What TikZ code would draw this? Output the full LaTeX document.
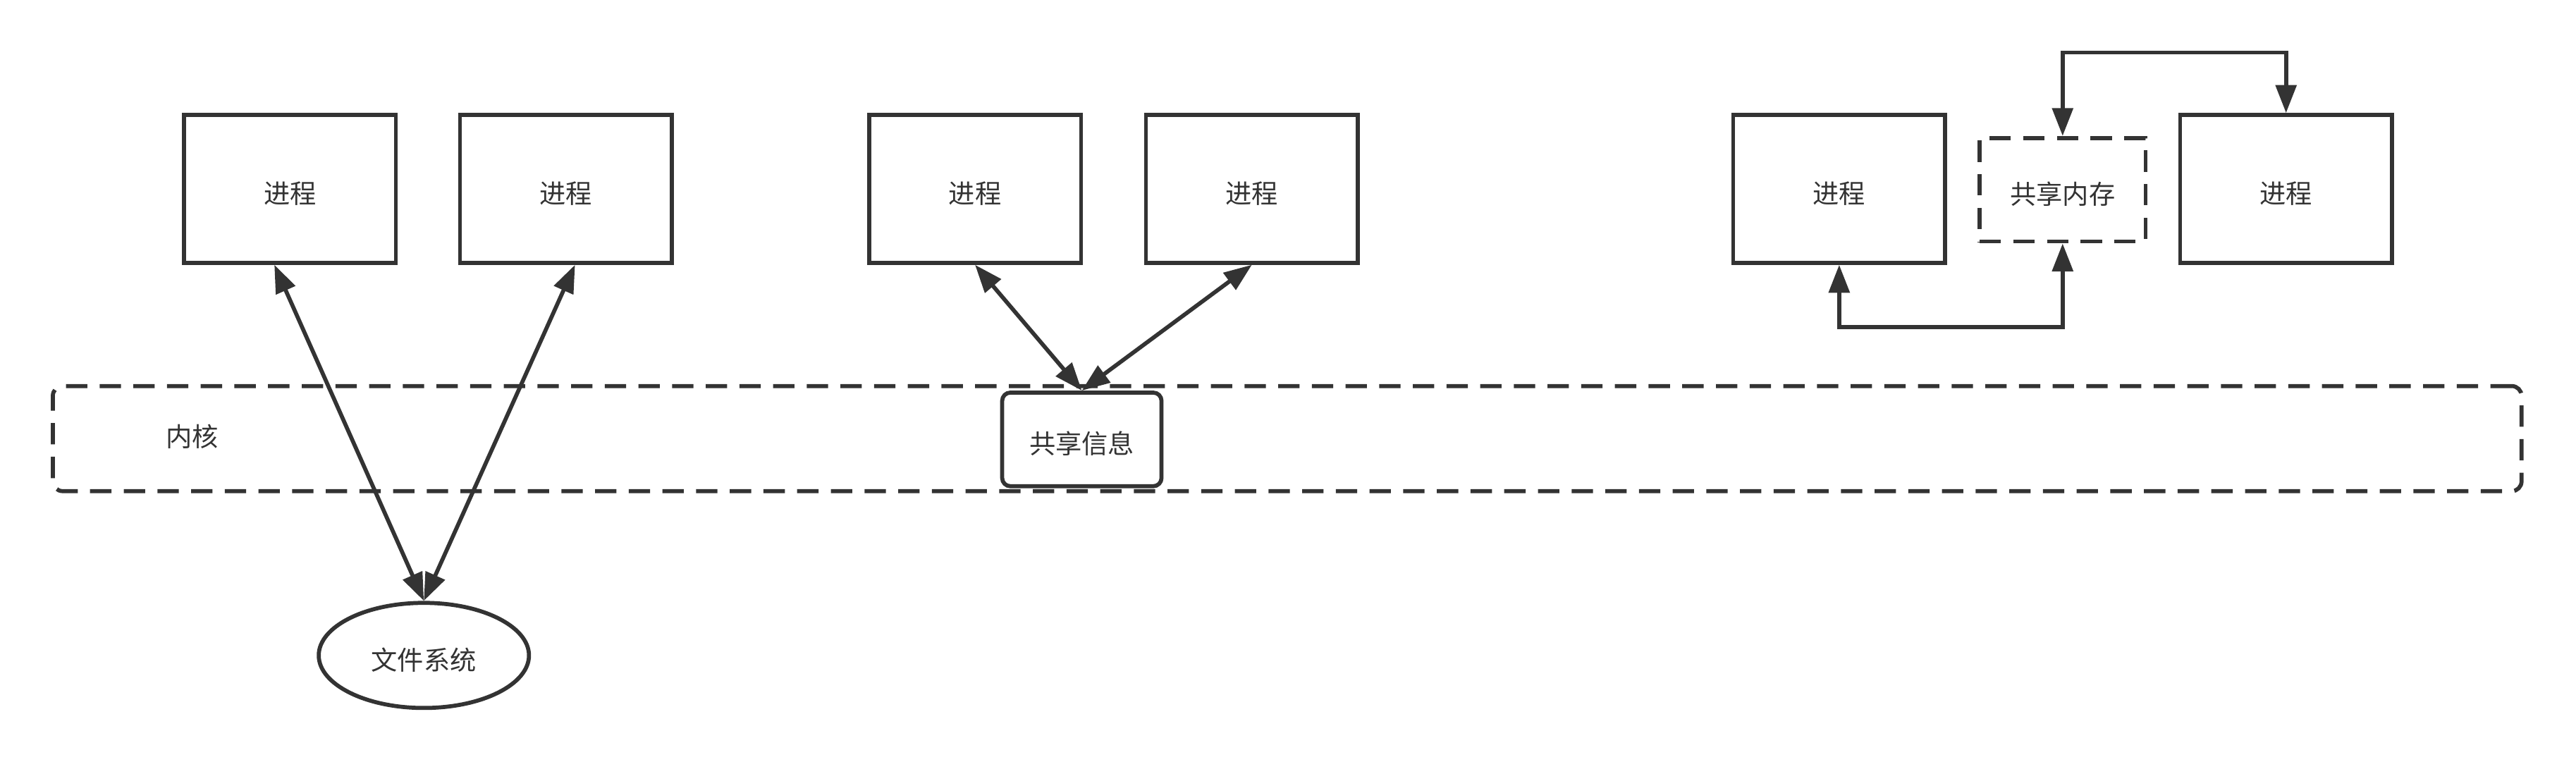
\documentclass[tikz,border=0pt]{standalone}
\usepackage{fontspec}
\newfontfamily\cjk{Noto Sans CJK SC}
\usetikzlibrary{arrows.meta,shapes.geometric,calc}

\begin{document}
\begin{tikzpicture}[x=0.02cm,y=-0.02cm,
    txt/.style={text=mydark,font=\cjk\fontsize{9.1pt}{11pt}\selectfont,text height=11pt,text depth=1.1pt},
    prozess/.style={txt,draw=mydark,line width=1.4pt,minimum width=2.58cm,minimum height=1.8cm,inner sep=0pt},
    speicher/.style={txt,draw=mydark,line width=1.4pt,dash pattern=on 0.26cm off 0.15cm,minimum width=2.02cm,minimum height=1.26cm,inner sep=0pt},
    infobox/.style={txt,draw=mydark,fill=white,line width=1.4pt,rounded corners=0.1cm,minimum width=1.94cm,minimum height=1.14cm,inner sep=0pt},
    datei/.style={txt,draw=mydark,line width=1.4pt,ellipse,minimum width=2.56cm,minimum height=1.28cm,inner sep=0pt},
    kern/.style={draw=mydark,line width=1.4pt,dash pattern=on 0.26cm off 0.15cm,rounded corners=0.12cm,minimum width=30.06cm,minimum height=1.28cm},
    pfeil/.style={draw=mydark,line width=1.4pt,{Triangle[length=0.34cm,width=0.25cm]}-{Triangle[length=0.34cm,width=0.25cm]}}]

\definecolor{mydark}{RGB}{51,51,51}

    \useasboundingbox (0,0) rectangle (1568,463.5);

    %Kern
    \node[kern] (kernel) at (783.5,267) {};
    \node[txt,inner sep=0pt] (kernlabel) at (117,263) {内核};

    %Prozesse
    \node[prozess] (p1) at (176.5,115) {进程};
    \node[prozess] (p2) at (344.5,115) {进程};
    \node[prozess] (p3) at (593.5,115) {进程};
    \node[prozess] (p4) at (762,115) {进程};
    \node[prozess] (p5) at (1119.5,115) {进程};
    \node[prozess] (p6) at (1391.5,115) {进程};

    %Gemeinsame Objekte
    \node[speicher] (shm) at (1255.5,115.5) {共享内存};
    \node[infobox] (info) at (658.5,267.5) {共享信息};
    \node[datei] (fs) at (258,399) {文件系统};

    %Pfeile
    \draw[pfeil] ($(p1.south)+(-9.5,0)$) -- (fs.north);
    \draw[pfeil] ($(p2.south)+(5.5,0)$) -- (fs.north);
    \draw[pfeil] (p3.south) -- (info.north);
    \draw[pfeil] (p4.south) -- (info.north);

    \coordinate (oben) at (1320,32);
    \coordinate (unten) at (1190,199);
    \draw[pfeil] (shm.north) -- (shm.north |- oben) -| (p6.north);
    \draw[pfeil] (p5.south) -- (p5.south |- unten) -| (shm.south);

\end{tikzpicture}
\end{document}
